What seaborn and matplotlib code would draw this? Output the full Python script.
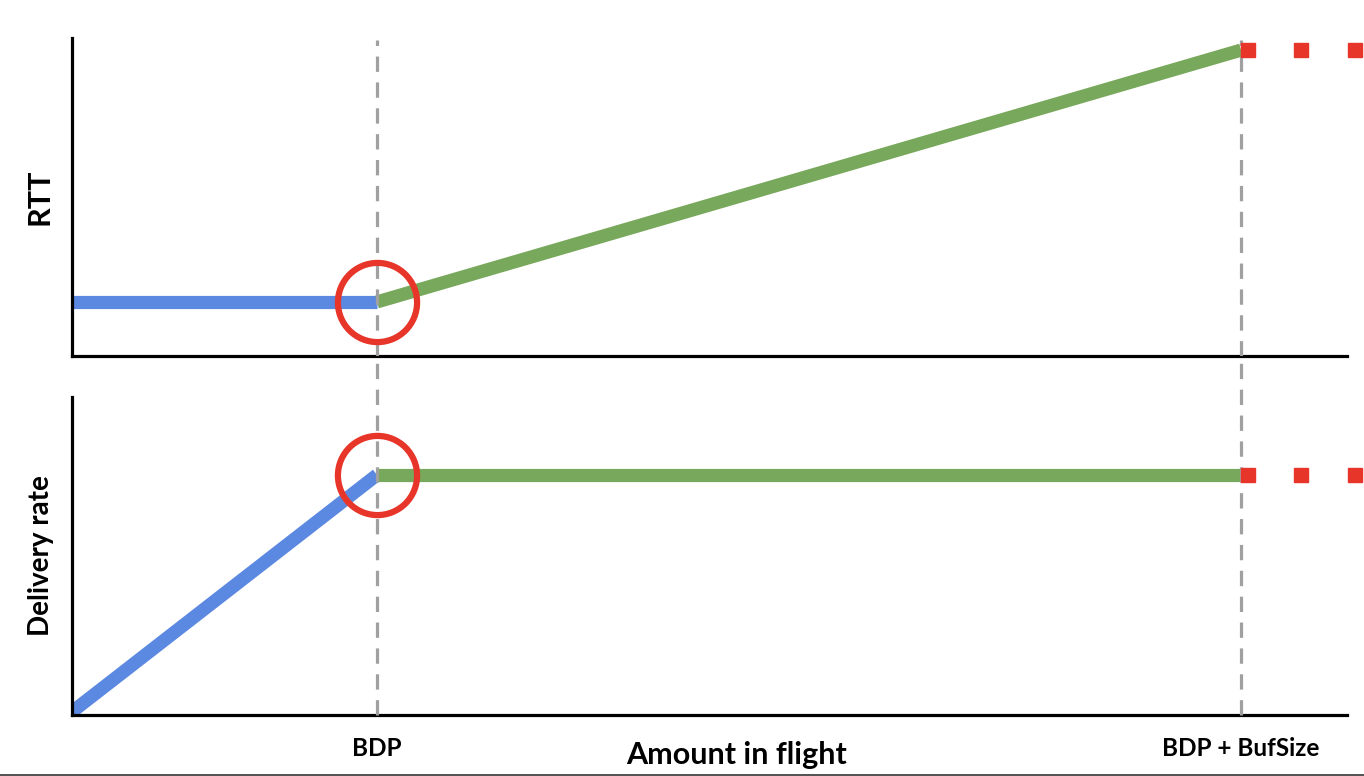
import matplotlib
matplotlib.use("Agg")
import matplotlib.pyplot as plt
import seaborn as sns
from matplotlib.lines import Line2D

# data (BDP = 1 unit of inflight)
bdp = 1.0
bdp_buf = 3.833
rtt_blue_x = [0.0, 1.0]
rtt_blue_y = [0.17, 0.17]
rtt_green_x = [1.0, 3.833]
rtt_green_y = [0.17, 0.962]
rate_blue_x = [0.0, 1.0]
rate_blue_y = [0.01, 0.755]
rate_green_x = [1.0, 3.833]
rate_green_y = [0.755, 0.755]
beyond_x = [3.856, 4.03, 4.205]
tick_pos = [bdp, bdp_buf]
tick_labels = ["BDP", "BDP + BufSize"]

BLUE = "#5b88e0"
GREEN = "#78a85b"
RED = "#e8352a"
GRAY = "#a0a0a0"

sns.set_style("white")
plt.rcParams["font.family"] = ["Lato", "DejaVu Sans"]
plt.rcParams["text.color"] = "black"

W, H = 1364, 776
fig = plt.figure(figsize=(W / 100, H / 100), dpi=100)
ax_top = fig.add_axes([72 / W, (H - 356) / H, (W - 72) / W, 318 / H])
ax_bot = fig.add_axes([72 / W, (H - 715) / H, (W - 72) / W, 318 / H])

xmax = (W - 72) / 305
dash = (0, (4.8, 3.3))


def panel(ax, bx, by, gx, gy, ylabel, size):
    lw = 9.5
    sns.lineplot(x=bx, y=by, ax=ax, color=BLUE, lw=lw, solid_capstyle="butt")
    sns.lineplot(x=gx, y=gy, ax=ax, color=GREEN, lw=lw, solid_capstyle="butt")
    ax.plot(beyond_x, [gy[-1]] * len(beyond_x), ls="none", marker="s",
            ms=9.4, color=RED, mec=RED, clip_on=False, zorder=5)
    ax.plot([bx[-1]], [by[-1]], ls="none", marker="o", ms=57, mfc="none",
            mec=RED, mew=4.5, zorder=6, clip_on=False)
    ax.set_xlim(0, xmax)
    ax.set_ylim(0, 1)
    ax.set_ylabel(ylabel, fontsize=size, fontweight="bold", color="black",
                  labelpad=13)
    ax.set_yticks([])
    for s in ["top", "right"]:
        ax.spines[s].set_visible(False)
    for s in ["left", "bottom"]:
        ax.spines[s].set_color("black")
        ax.spines[s].set_linewidth(2.3)
    ax.spines["bottom"].set_bounds(0, (1347 - 72) / 305)


panel(ax_top, rtt_blue_x, rtt_blue_y, rtt_green_x, rtt_green_y, "RTT", 22)
panel(ax_bot, rate_blue_x, rate_blue_y, rate_green_x, rate_green_y,
      "Delivery rate", 20)

ax_top.set_xticks([])
ax_bot.set_xticks(tick_pos)
ax_bot.set_xticklabels(tick_labels, fontsize=17.5, fontweight="bold", color="black")
ax_bot.tick_params(axis="x", length=0, pad=16)
fig.text(737 / W, 1 - 755 / H, "Amount in flight", fontsize=22,
         fontweight="bold", color="black", ha="center", va="center")

# dashed guides through both panels
for x in tick_pos:
    ax_top.axvline(x, 0, 0.995, color=GRAY, ls=dash, lw=2.3, zorder=4)
    ax_bot.axvline(x, 0, (715 - 356) / 318, color=GRAY, ls=dash,
                   lw=2.3, zorder=4, clip_on=False)

fig.add_artist(Line2D([0, 1], [0.7 / H, 0.7 / H], color="#333333", lw=1.2))

fig.savefig("out.png", dpi=100)
